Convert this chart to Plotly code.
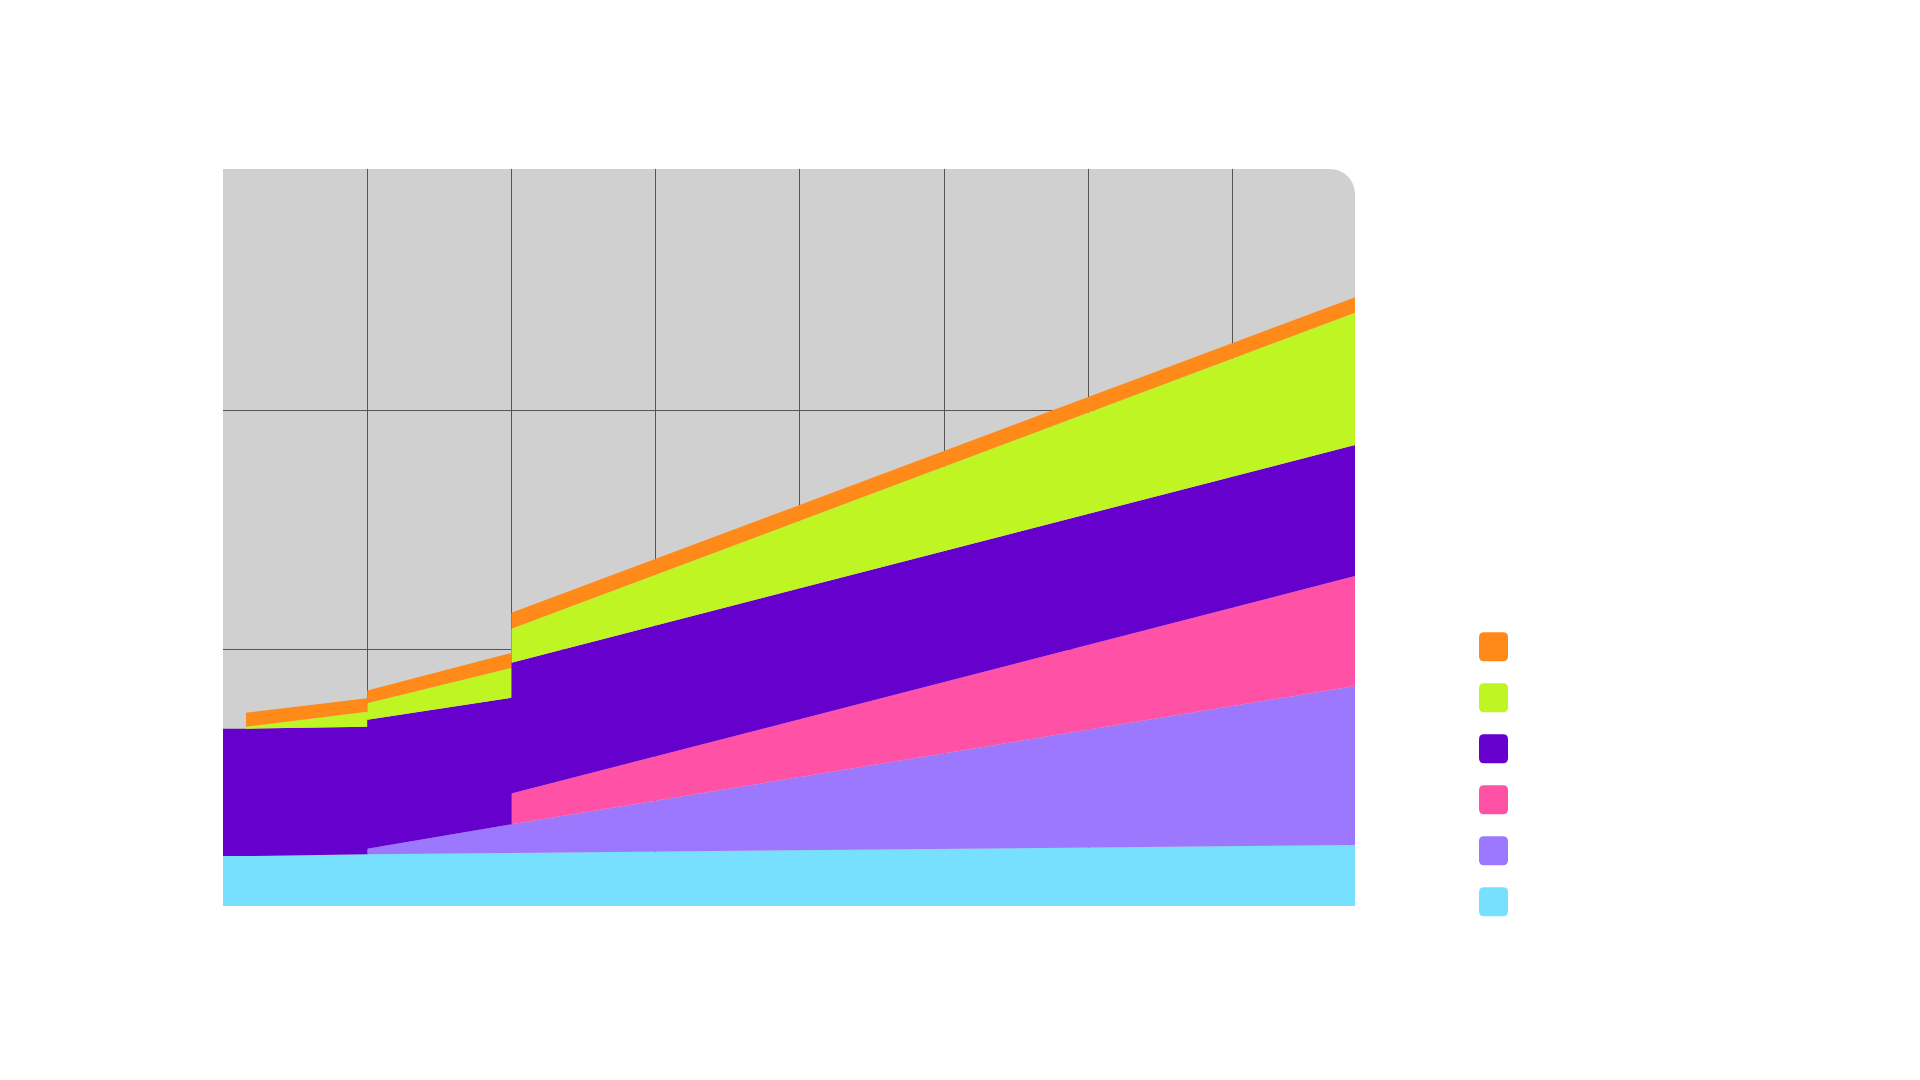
import plotly.graph_objects as go

# ---- data (y in chart units, x in category steps) ----
x_points = [0, 0.16, 1, 1, 2, 2, 7.85]   # 1 and 2 appear twice: value jumps at these positions

cyan     = [50.0, 49.9, 51.7, 51.7, 53.0, 53.0, 61.0]
lavender = [None, None, None, 5.5, 28.7, 28.7, 159.0]
pink     = [None, None, None, None, None, 30.8, 110.0]
purple   = [127.3, 127.4, 127.6, 129.0, 126.5, 130.7, 131.0]
lime     = [None, 2.0, 15.0, 16.5, 29.8, 34.0, 132.3]
orange   = [None, 14.0, 13.5, 12.7, 15.0, 16.0, 15.4]

series_order = ["cyan", "lavender", "pink", "purple", "lime", "orange"]   # bottom -> top
series_values = {"cyan": cyan, "lavender": lavender, "pink": pink,
                 "purple": purple, "lime": lime, "orange": orange}
series_colors = {"cyan": "#78E0FF", "lavender": "#9C78FF", "pink": "#FF52A6",
                 "purple": "#6600CC", "lime": "#BEF522", "orange": "#FF8A1A"}

x_grid = [1, 2, 3, 4, 5, 6, 7]
y_grid = [17.7, 256.7, 495.7]

# ---- figure ----
fig = go.Figure()

base = [0.0] * len(x_points)
for name in series_order:
    vals = series_values[name]
    idx = [i for i, v in enumerate(vals) if v is not None]
    xs = [x_points[i] for i in idx]
    bottom = [base[i] for i in idx]
    top = [base[i] + vals[i] for i in idx]
    fig.add_trace(go.Scatter(
        x=xs + xs[::-1], y=top + bottom[::-1],
        mode="lines", fill="toself", fillcolor=series_colors[name],
        line=dict(width=0, color=series_colors[name]),
        name=name, showlegend=False, hoverinfo="skip"))
    for i in idx:
        base[i] += vals[i]

W, H = 1920, 1080
L, R, T, B = 223, 565, 169, 174
pw, ph = W - L - R, H - T - B

fig.update_layout(
    width=W, height=H,
    margin=dict(l=L, r=R, t=T, b=B, pad=0),
    paper_bgcolor="white", plot_bgcolor="#D0D0D0",
    xaxis=dict(range=[0, 7.85], tickmode="array", tickvals=x_grid, showticklabels=False,
               showgrid=True, gridcolor="#555555", gridwidth=1, zeroline=False,
               showline=False, ticks="", fixedrange=True),
    yaxis=dict(range=[0, 737], tickmode="array", tickvals=y_grid, showticklabels=False,
               showgrid=True, gridcolor="#555555", gridwidth=1, zeroline=False,
               showline=False, ticks="", fixedrange=True),
    showlegend=False,
)

shapes = []
# rounded top-right corner of plot background
shapes.append(dict(type="path", xref="paper", yref="paper", xsizemode="pixel", ysizemode="pixel",
                   xanchor=1, yanchor=1,
                   path="M 1,1 L -25,1 L -25,0 C -11.2,0 0,-11.2 0,-25 L 1,-25 Z",
                   fillcolor="white", line=dict(width=0), layer="above"))

# legend swatches (rounded squares)
legend_order = ["orange", "lime", "purple", "pink", "lavender", "cyan"]
cx_px = 1493.5
for k, name in enumerate(legend_order):
    cy_px = 646.7 + 51 * k
    xa = (cx_px - L) / pw
    ya = (H - B - cy_px) / ph
    h, r = 14.5, 5
    p = (f"M {-h+r},{-h} L {h-r},{-h} Q {h},{-h} {h},{-h+r} L {h},{h-r} Q {h},{h} {h-r},{h} "
         f"L {-h+r},{h} Q {-h},{h} {-h},{h-r} L {-h},{-h+r} Q {-h},{-h} {-h+r},{-h} Z")
    shapes.append(dict(type="path", xref="paper", yref="paper", xsizemode="pixel", ysizemode="pixel",
                       xanchor=xa, yanchor=ya, path=p, fillcolor=series_colors[name],
                       line=dict(width=0), layer="above"))

fig.update_layout(shapes=shapes)
fig.write_html("out.html", config={"displayModeBar": False})
